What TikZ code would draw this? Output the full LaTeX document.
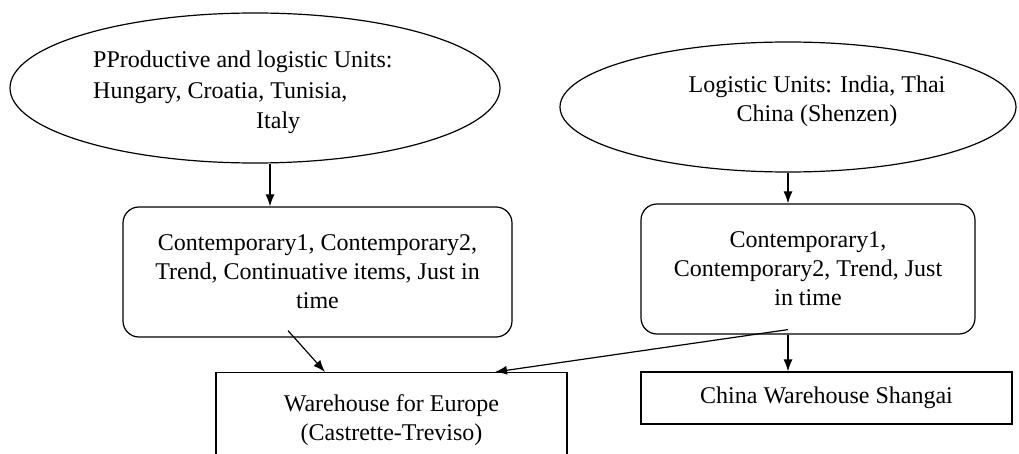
\documentclass[tikz,border=0pt]{standalone}
\usepackage{fontspec}
\setmainfont{Liberation Serif}
\usetikzlibrary{shapes.geometric,arrows.meta}
\begin{document}
\begin{tikzpicture}[x=1pt,y=-1pt,
  every node/.style={font=\fontsize{24}{29}\selectfont, text=black},
  ell/.style={draw, ellipse, line width=1.2pt, inner sep=0pt},
  rbox/.style={draw, rounded corners=16pt, line width=1.2pt, align=center, inner sep=0pt},
  sbox/.style={draw, rectangle, line width=1.2pt, align=center, inner sep=0pt},
  txt/.style={inner sep=0pt},
  arr/.style={-{Latex[length=12pt,width=9pt]}, line width=1.2pt}]
\useasboundingbox (0,0) rectangle (1019,454);

% ellipses
\node[ell, minimum width=490pt, minimum height=150pt] (e1) at (255,88) {};
\node[txt, align=left, anchor=north west, font=\fontsize{24}{30.5}\selectfont] (e1t) at (93,51)
  {PProductive and logistic Units:\\Hungary, Croatia, Tunisia,\\\hspace*{163pt}Italy};
\node[ell, minimum width=456pt, minimum height=130pt] (e2) at (788,107) {};
\node[txt, align=center] (e2t) at (817,101) {Logistic Units: India, Thai\\China (Shenzen)};

% rounded boxes
\node[rbox, minimum width=389pt, minimum height=130pt] (b1) at (317.5,272)
  {Contemporary1, Contemporary2,\\Trend, Continuative items, Just in\\time};
\node[rbox, minimum width=334pt, minimum height=130pt] (b2) at (808,269)
  {Contemporary1,\\Contemporary2, Trend, Just\\in time};

% warehouses
\node[sbox, anchor=north, minimum width=351pt, minimum height=96pt] (eu) at (391.5,372)
  {Warehouse for Europe\\(Castrette-Treviso)};
\node[sbox, minimum width=371pt, minimum height=52pt] (ch) at (826.5,398)
  {China Warehouse Shangai};

% connectors
\draw[arr] ([xshift=15pt]e1.south) -- ([xshift=15pt]e1.south |- b1.north);
\draw[arr] (e2.south) -- (e2.south |- b2.north);
\draw[arr] ([xshift=-20pt]b2.south) -- ([xshift=-20pt]b2.south |- ch.north);
\draw[arr] ([xshift=-29.5pt,yshift=7pt]b1.south) -- ([xshift=-66.5pt]eu.north);
\draw[arr] ([xshift=-20pt,yshift=5pt]b2.south) -- ([xshift=103.5pt]eu.north);
\end{tikzpicture}
\end{document}
